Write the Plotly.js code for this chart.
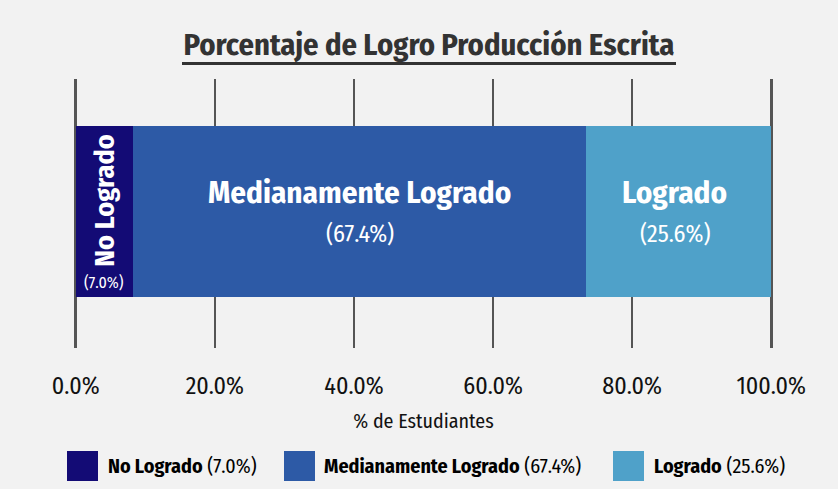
<!DOCTYPE html>
<html>
<head>
<meta charset="utf-8">
<script src="https://cdn.plot.ly/plotly-3.0.1.min.js"></script>
<style>
  html, body { margin: 0; padding: 0; background: #f2f2f2; }
  #chart { width: 838px; height: 489px; }
</style>
</head>
<body>
<div id="chart"></div>
<script>
// ---- data ----
const categories = ['No Logrado', 'Medianamente Logrado', 'Logrado'];
const printedPercent = [7.0, 67.4, 25.6];      // percentages printed in the labels
const segmentLength = [8.2, 65.2, 26.6];       // segment lengths as drawn in the picture
const rowLabel = ['Producción Escrita'];
const tickValues = [0, 20, 40, 60, 80, 100];
const tickLabels = ['0.0%', '20.0%', '40.0%', '60.0%', '80.0%', '100.0%'];

const segmentColors = ['#130b75', '#2d5aa6', '#4fa1c9'];
const FONT = '"Fira Sans Condensed", "Liberation Sans Narrow", "DejaVu Sans Condensed", "Roboto Condensed", sans-serif';

const traces = categories.map((c, i) => ({
  type: 'bar',
  orientation: 'h',
  name: c,
  x: [segmentLength[i]],
  y: rowLabel,
  width: 0.636,
  marker: { color: segmentColors[i], line: { width: 0 } },
  hoverinfo: 'none',
  showlegend: false
}));

// cumulative starts
const starts = [];
segmentLength.reduce((acc, v, i) => { starts[i] = acc; return acc + v; }, 0);
const mids = segmentLength.map((v, i) => starts[i] + v / 2);
const pctText = printedPercent.map(p => '(' + p.toFixed(1) + '%)');

const annotations = [];
// No Logrado (rotated)
annotations.push({ x: mids[0], y: rowLabel[0], xref: 'x', yref: 'y', text: '<b>' + categories[0] + '</b>',
  textangle: -90, showarrow: false, yshift: 11, xshift: 0,
  font: { family: FONT, size: 28, color: '#ffffff' } });
annotations.push({ x: mids[0], y: rowLabel[0], xref: 'x', yref: 'y', text: pctText[0],
  showarrow: false, yshift: -71, font: { family: FONT, size: 16, color: '#ffffff' } });
// other two
const labelXShift = [0, 0, -4];
for (let i = 1; i < 3; i++) {
  annotations.push({ x: mids[i], y: rowLabel[0], xref: 'x', yref: 'y', text: '<b>' + categories[i] + '</b>',
    showarrow: false, yshift: 19, xshift: labelXShift[i], font: { family: FONT, size: 31, color: '#ffffff' } });
  annotations.push({ x: mids[i], y: rowLabel[0], xref: 'x', yref: 'y', text: pctText[i],
    showarrow: false, yshift: -22, xshift: labelXShift[i], font: { family: FONT, size: 24, color: '#ffffff' } });
}

// pixel -> paper helpers
const PL = 74, PR = 773, T = 79, B = 348;
const XMIN = -0.25, XMAX = 100.25;
const pxData = v => XMIN + (v - PL) / (PR - PL) * (XMAX - XMIN);
const px = v => (v - PL) / (PR - PL);
const py = v => (B - v) / (B - T);
const legendBoxX = [67, 284, 613];
const legendTextX = [106, 322, 652];
const shapes = [];
categories.forEach((c, i) => {
  shapes.push({ type: 'rect', xref: 'paper', yref: 'paper',
    x0: px(legendBoxX[i]), x1: px(legendBoxX[i] + 31), y0: py(451), y1: py(481),
    fillcolor: segmentColors[i], line: { width: 0 } });
  annotations.push({ xref: 'paper', yref: 'paper', x: px(legendTextX[i]), y: py(466),
    xanchor: 'left', yanchor: 'middle', showarrow: false,
    text: '<b>' + c + '</b> ' + pctText[i],
    font: { family: FONT, size: 20, color: '#000000' } });
});
// title underline
shapes.push({ type: 'line', xref: 'paper', yref: 'paper', x0: px(182), x1: px(676), y0: py(63.5), y1: py(63.5),
  line: { color: '#333333', width: 3 } });

const layout = {
  width: 838, height: 489,
  paper_bgcolor: '#f2f2f2', plot_bgcolor: '#f2f2f2',
  margin: { l: PL, r: 838 - PR, t: T, b: 489 - B, pad: 0 },
  barmode: 'stack',
  showlegend: false,
  title: { text: '<b>Porcentaje de Logro Producción Escrita</b>', xref: 'paper', x: px(429), xanchor: 'center',
    yref: 'container', y: 1 - 44 / 489, yanchor: 'middle',
    font: { family: FONT, size: 30.5, color: '#333333' } },
  xaxis: {
    range: [XMIN, XMAX], tickvals: tickValues, ticktext: tickLabels,
    showgrid: true, gridcolor: '#555555', gridwidth: 2.5, zeroline: false, showline: false,
    ticks: 'outside', ticklen: 16, tickcolor: 'rgba(0,0,0,0)',
    tickfont: { family: FONT, size: 24, color: '#111111' },
    title: { text: '% de Estudiantes', standoff: 15, font: { family: FONT, size: 20, color: '#111111' } },
    fixedrange: true
  },
  yaxis: { range: [-0.5074, 0.4926], showticklabels: false, showgrid: false, zeroline: false, fixedrange: true, type: 'category' },
  shapes: shapes,
  annotations: annotations
};

Plotly.newPlot('chart', traces, layout, { displayModeBar: false, staticPlot: true });
</script>
</body>
</html>
